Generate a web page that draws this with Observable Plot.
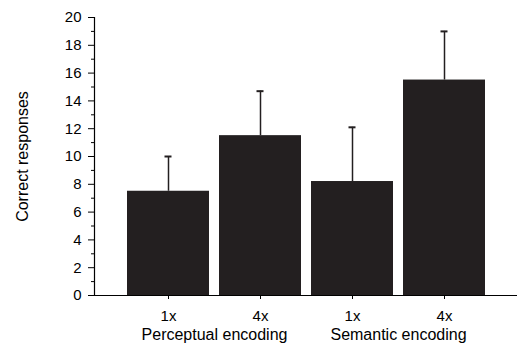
<!DOCTYPE html>
<html>
<head>
<meta charset="utf-8">
<script src="https://cdn.jsdelivr.net/npm/d3@7"></script>
<script src="https://cdn.jsdelivr.net/npm/@observablehq/plot@0.6"></script>
<style>
  html, body { margin: 0; padding: 0; background: #fff; }
  svg { font-family: "Liberation Sans", Arial, sans-serif; }
</style>
</head>
<body>
<div id="chart"></div>
<script>
const conditions = ["Perceptual 1x", "Perceptual 4x", "Semantic 1x", "Semantic 4x"];
const repetitionLabels = ["1x", "4x", "1x", "4x"];
const means = [7.5, 11.5, 8.2, 15.5];
const errorTops = [10.0, 14.7, 12.1, 19.0];
const groups = ["Perceptual encoding", "Semantic encoding"];
const groupFirst = ["Perceptual 1x", "Semantic 1x"];
const yTicks = [0, 2, 4, 6, 8, 10, 12, 14, 16, 18, 20];
const yMinorTicks = [1, 3, 5, 7, 9, 11, 13, 15, 17, 19];

const data = conditions.map((c, i) => ({cond: c, label: repetitionLabels[i], mean: means[i], top: errorTops[i]}));
const groupData = groups.map((g, i) => ({group: g, first: groupFirst[i]}));
const labelOf = Object.fromEntries(data.map(d => [d.cond, d.label]));

const ink = "#231f20";

const chart = Plot.plot({
  width: 517,
  height: 345,
  marginLeft: 94,
  marginRight: 0,
  marginTop: 17,
  marginBottom: 50,
  style: {fontSize: "15px", fontFamily: "'Liberation Sans', Arial, sans-serif", color: "#000", background: "#fff"},
  x: {domain: conditions, paddingInner: 0.11, paddingOuter: 0.35, label: null},
  y: {domain: [0, 20], label: null},
  marks: [
    Plot.barY(data, {x: "cond", y: "mean", fill: ink}),
    Plot.ruleX(data, {x: "cond", y1: "mean", y2: "top", stroke: ink, strokeWidth: 1.5}),
    Plot.tickY(data, {x: "cond", y: "top", stroke: ink, strokeWidth: 2, insetLeft: 37.5, insetRight: 37.5}),
    Plot.ruleY([0], {stroke: "#000", strokeWidth: 1.2}),
    Plot.frame({anchor: "left", stroke: "#000", strokeWidth: 1.2}),
    Plot.axisY({ticks: yTicks, tickSize: 6, tickPadding: 7, tickFormat: d => d, label: null, fontSize: 15}),
    Plot.axisY({ticks: yMinorTicks, tickSize: 3, tickFormat: () => "", label: null}),
    Plot.axisX({tickSize: 4, tickPadding: 11, tickFormat: d => labelOf[d], label: null, fontSize: 15}),
    Plot.text(groupData, {x: "first", text: "group", frameAnchor: "bottom", dx: 46, dy: 39, lineAnchor: "middle", fontSize: 16, fill: "#000"}),
    Plot.text(["Correct responses"], {text: d => d, frameAnchor: "left", textAnchor: "middle", dx: -72, rotate: -90, fontSize: 16, fill: "#000"})
  ]
});
document.getElementById("chart").appendChild(chart);
</script>
</body>
</html>
